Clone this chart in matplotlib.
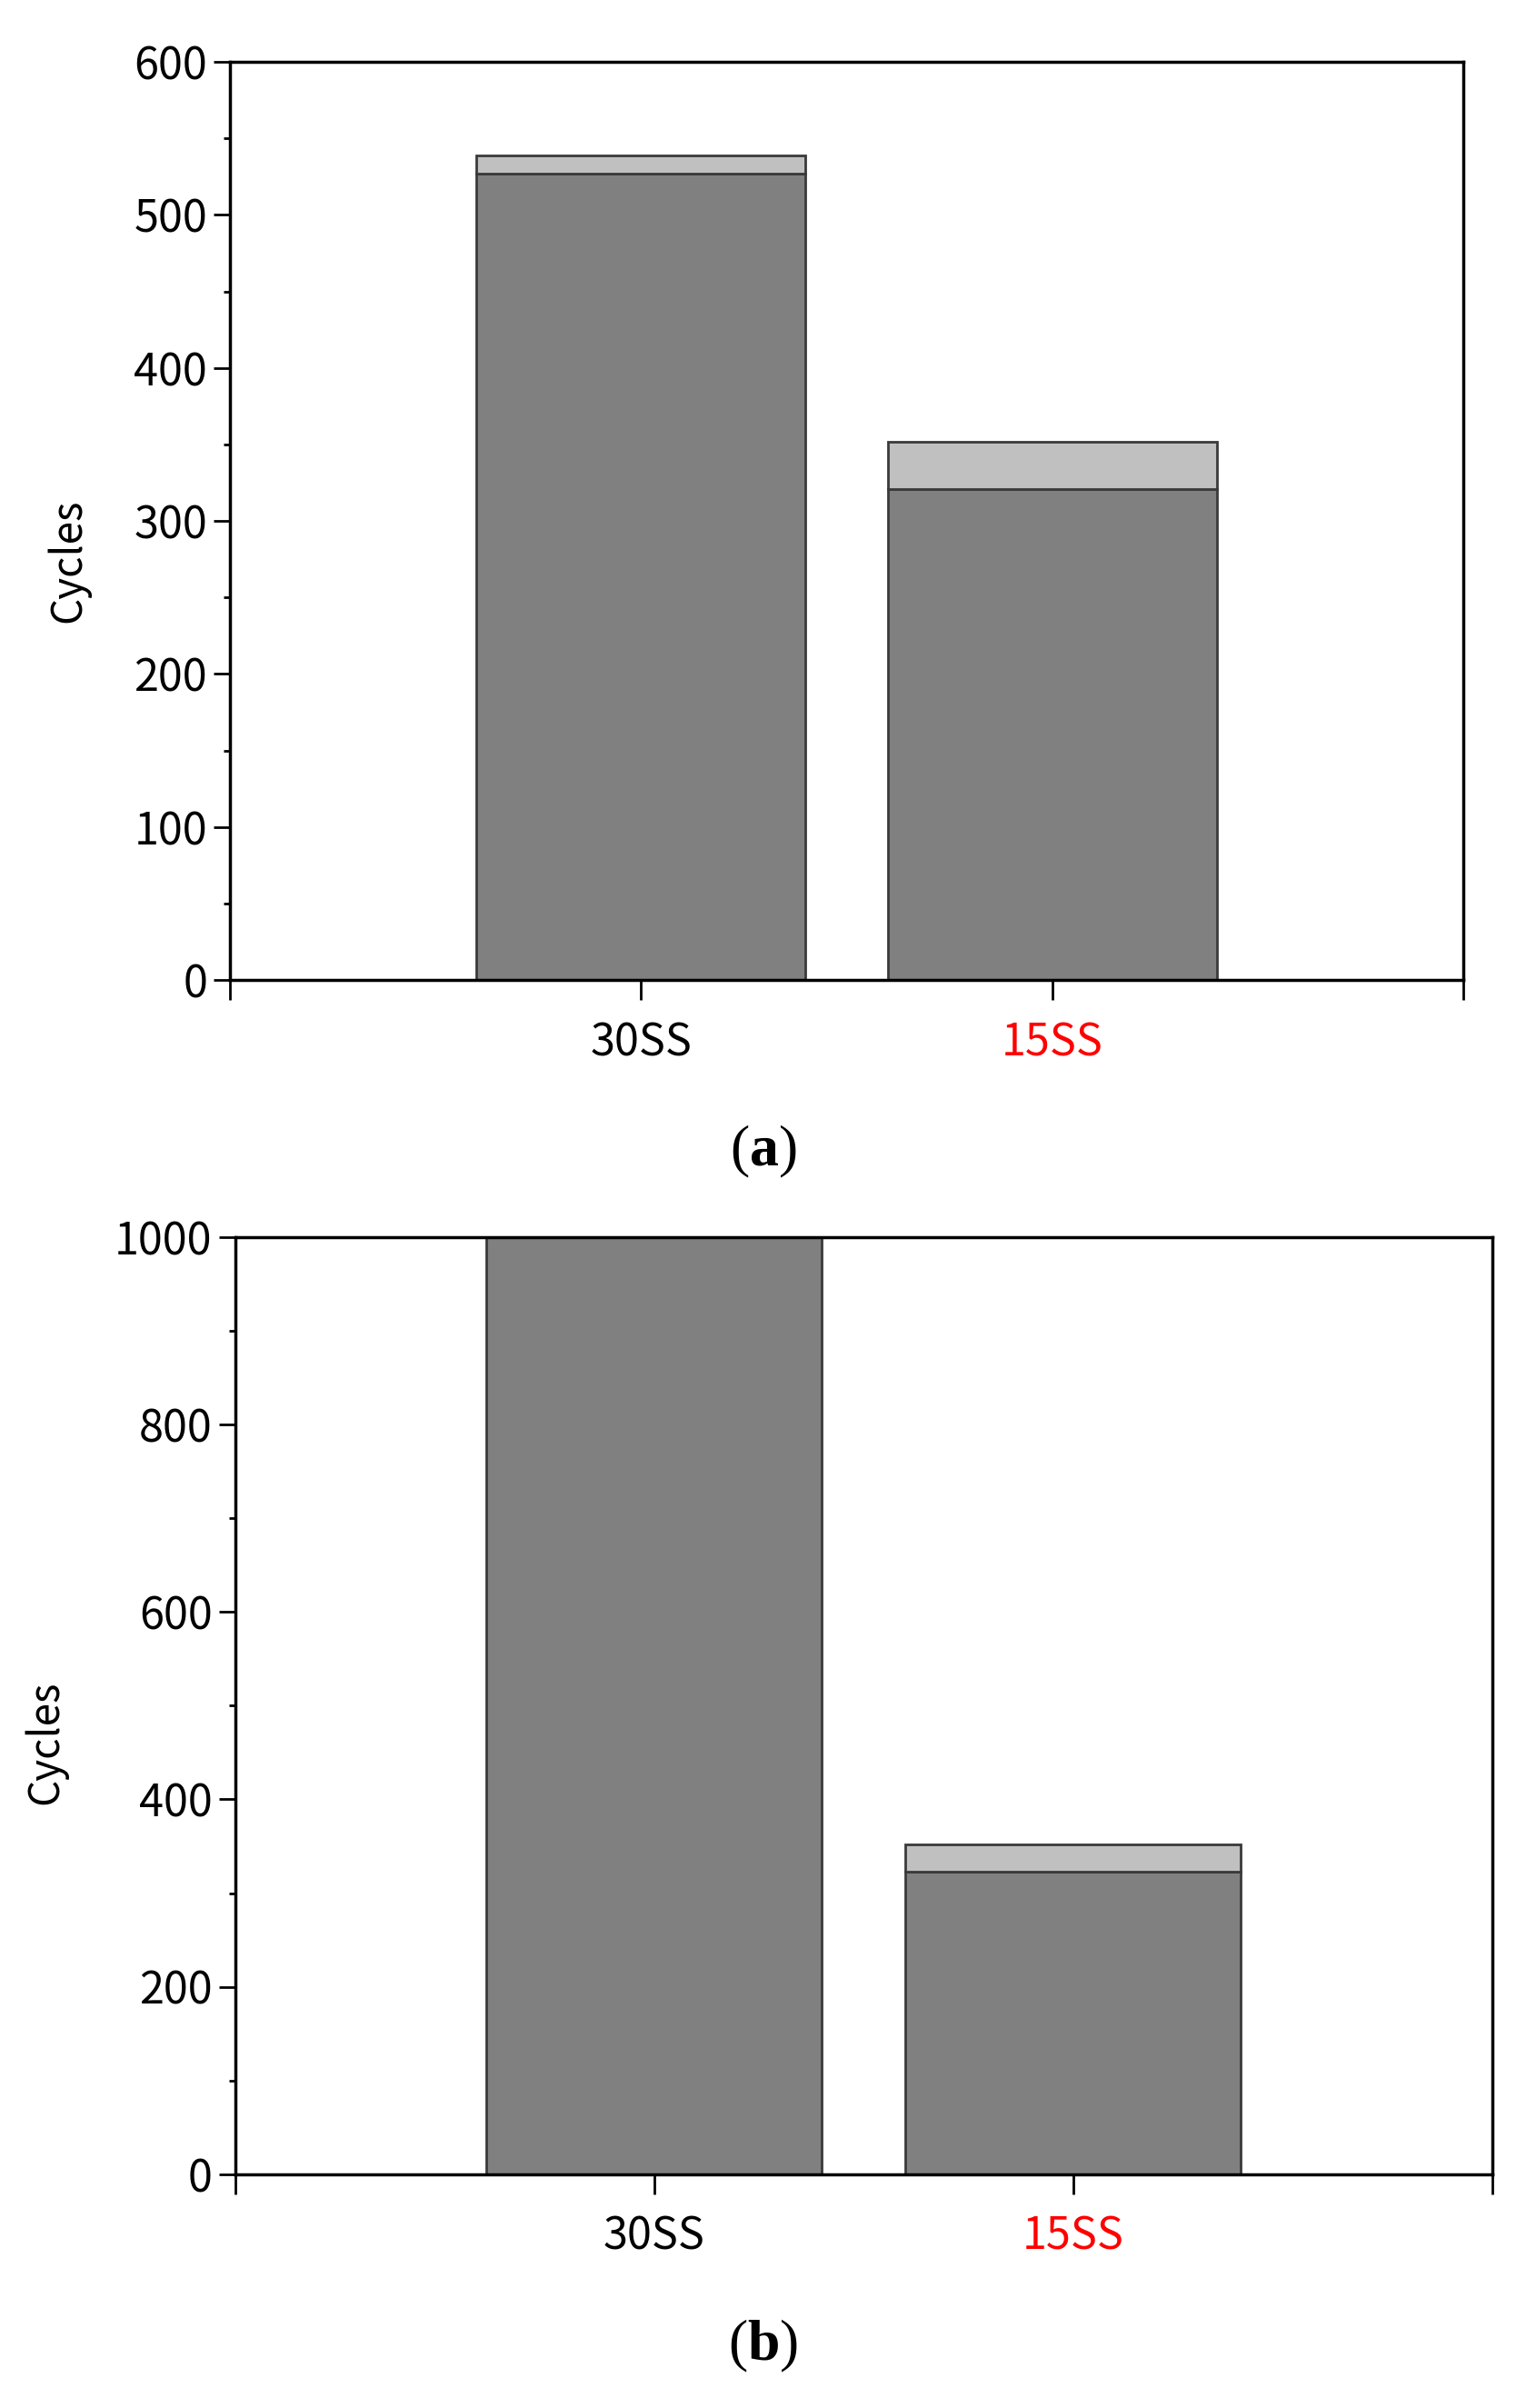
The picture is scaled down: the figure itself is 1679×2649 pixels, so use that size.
import matplotlib
matplotlib.use("Agg")
import matplotlib.pyplot as plt
from matplotlib.ticker import MultipleLocator

# 데이터
categories = ["30SS", "15SS"]
label_colors = ["black", "red"]
positions = [1, 2]

a_base = [527, 321]
a_extra = [12, 31]

b_base = [1000, 323]
b_extra = [0, 29]

dark = "#808080"
light = "#c0c0c0"
edge = "#3a3a3a"

plt.rcParams['font.family'] = ['Noto Sans CJK KR', 'DejaVu Sans']
plt.rcParams['mathtext.fontset'] = 'custom'
plt.rcParams['mathtext.rm'] = 'Liberation Serif'
plt.rcParams['mathtext.bf'] = 'Liberation Serif:bold'

fig = plt.figure(figsize=(16.79, 26.49), dpi=100)


def draw_panel(ax, base, extra, ymax, major, minor):
    ax.bar(positions, base, width=0.8, color=dark, edgecolor=edge, linewidth=2, zorder=2)
    ax.bar(positions, extra, width=0.8, bottom=base, color=light, edgecolor=edge,
           linewidth=2, zorder=2)
    ax.set_xlim(0, 3)
    ax.set_ylim(0, ymax)
    ax.yaxis.set_major_locator(MultipleLocator(major))
    ax.yaxis.set_minor_locator(MultipleLocator(minor))
    ax.set_xticks([0, 1, 2, 3])
    ax.set_xticklabels(["", categories[0], categories[1], ""])
    for lbl, c in zip(ax.get_xticklabels()[1:3], label_colors):
        lbl.set_color(c)
    ax.tick_params(axis='y', which='major', direction='out', length=13, width=2,
                   labelsize=35, pad=5, right=False)
    ax.tick_params(axis='y', which='minor', direction='out', length=5, width=2, right=False)
    ax.tick_params(axis='x', which='major', direction='out', length=16, width=2,
                   labelsize=35, pad=16, top=False)
    for s in ax.spines.values():
        s.set_linewidth(2.5)
        s.set_zorder(3)


# (a)
ax1 = fig.add_axes([0.1507, 0.593, 0.8083, 0.3813])
draw_panel(ax1, a_base, a_extra, 600, 100, 50)
fig.text(0.045, 0.7673, "Cycles", rotation=90, fontsize=33, ha='center', va='center')
fig.text(0.500, 0.5218, r"($\mathbf{a}$)", fontsize=46, family='Liberation Serif',
         ha='center', va='center')

# (b)
ax2 = fig.add_axes([0.154, 0.0971, 0.824, 0.3891])
draw_panel(ax2, b_base, b_extra, 1000, 200, 100)
fig.text(0.030, 0.2763, "Cycles", rotation=90, fontsize=33, ha='center', va='center')
fig.text(0.500, 0.0257, r"($\mathbf{b}$)", fontsize=46, family='Liberation Serif',
         ha='center', va='center')

fig.savefig("out.png", dpi=100)
